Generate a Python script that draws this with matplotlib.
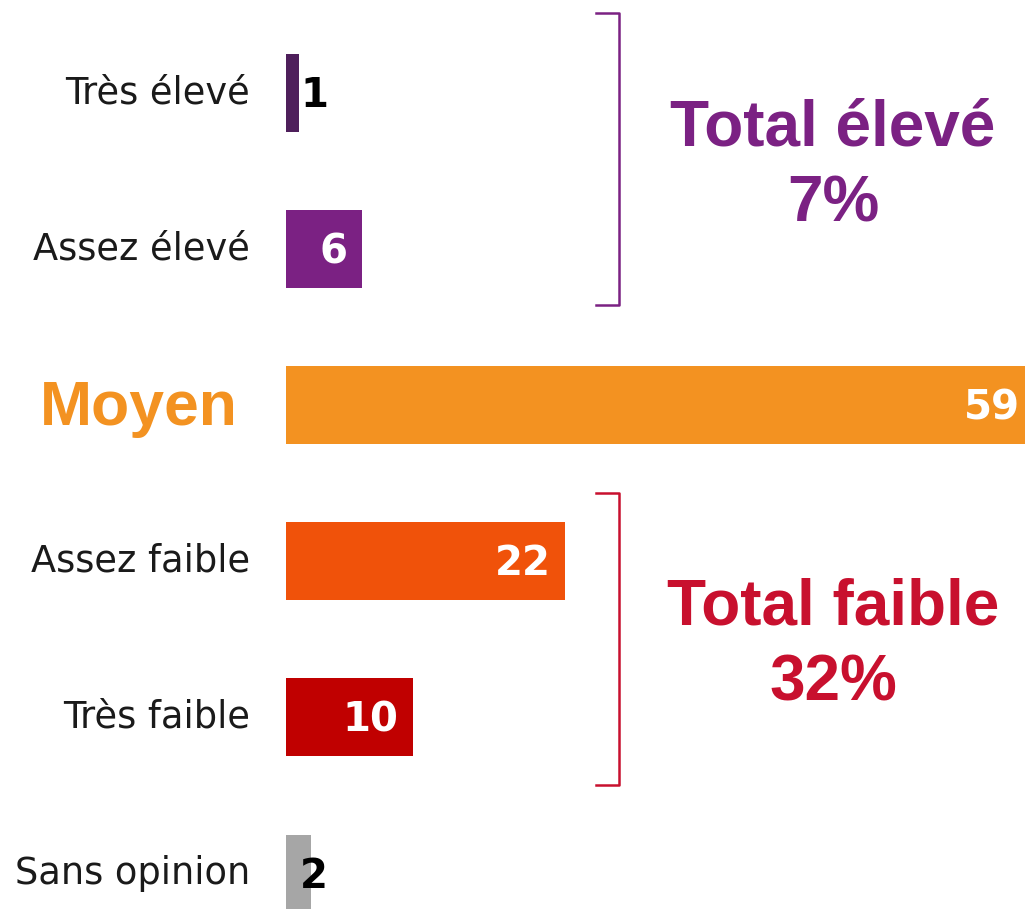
"""
Horizontal bar chart: niveau perçu, with grouped totals.
"""
import matplotlib
matplotlib.use("Agg")
from matplotlib import pyplot as plt

categories = ["Très élevé", "Assez élevé", "Moyen", "Assez faible", "Très faible", "Sans opinion"]
values = [1, 6, 59, 22, 10, 2]
colors = ["#4E1F5B", "#7B2183", "#F39221", "#F0520A", "#C00000", "#A6A6A6"]
inside = [False, True, True, True, True, False]

totals = [("Total élevé\n7%", 0, 1, "#7B2183"), ("Total faible\n32%", 3, 4, "#C8102E")]

W, H = 1025, 909
fig = plt.figure(figsize=(W / 100, H / 100), dpi=100)
ax = fig.add_axes([286 / W, 0, 739 / W, 1])
ax.set_xlim(0, 739 / 12.7)
ax.set_ylim(5.227, -0.596)
ax.axis("off")

pos = list(range(len(categories)))
ax.barh(pos, values, height=0.5, color=colors)

for i, (cat, v) in enumerate(zip(categories, values)):
    if cat == "Moyen":
        ax.annotate(cat, (0, i), xytext=(-147, -3), textcoords="offset pixels",
                    ha="center", va="center", fontsize=45, fontweight="bold",
                    color="#F39221", family="Liberation Sans", annotation_clip=False)
    else:
        ax.annotate(cat, (0, i), xytext=(-36, 0), textcoords="offset pixels",
                    ha="right", va="center", fontsize=26.5, color="#1a1a1a",
                    annotation_clip=False)
    if inside[i]:
        ax.annotate(str(v), (v, i), xytext=(-15, -3), textcoords="offset pixels",
                    ha="right", va="center", fontsize=29, fontweight="bold",
                    color="white", annotation_clip=False)
    else:
        ax.annotate(str(v), (0, i), xytext=(14, -3), textcoords="offset pixels",
                    ha="left", va="center", fontsize=29, fontweight="bold",
                    color="black", annotation_clip=False)

# brackets + totals (padding above/below the grouped bars)
pads = [(0.51, 0.36), (0.44, 0.43)]
for (label, a, b, col), (pt, pb) in zip(totals, pads):
    y0, y1 = a - pt, b + pb
    xb = 26.22
    ax.plot([xb - 1.8, xb, xb, xb - 1.8], [y0, y0, y1, y1], color=col, lw=1.8,
            solid_joinstyle="round", clip_on=False)
    ax.annotate(label, (43.07, (y0 + y1) / 2), xytext=(0, -7), textcoords="offset pixels",
                ha="center", va="center", fontsize=46, fontweight="bold", color=col,
                family="Liberation Sans", linespacing=1.35)

fig.savefig("out.png", dpi=100)
